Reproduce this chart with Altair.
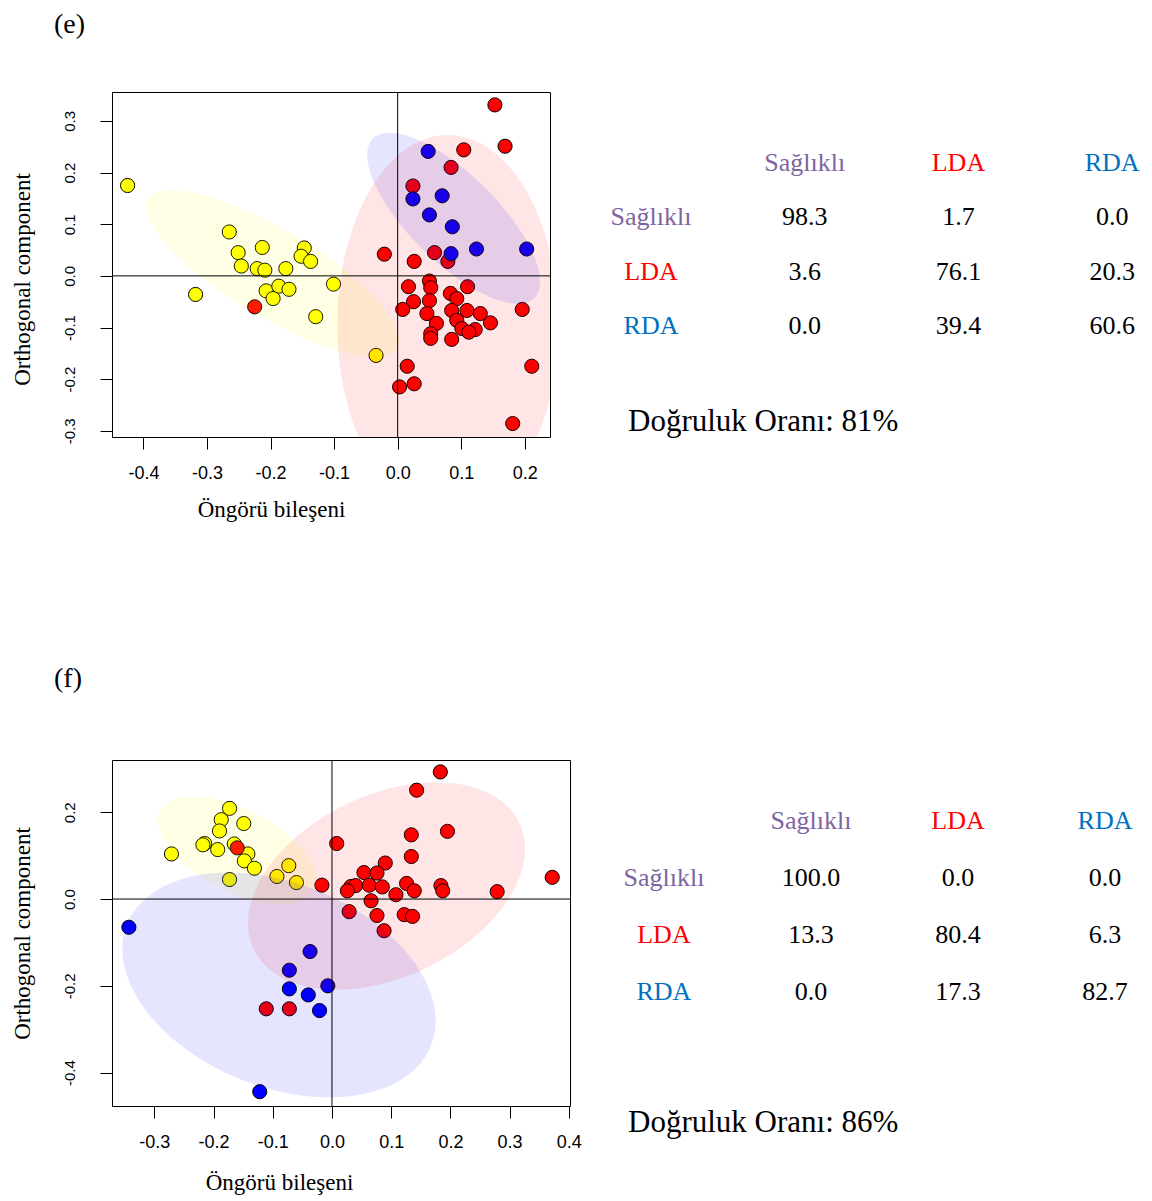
import altair as alt
import pandas as pd
import numpy as np

classes = ["Sağlıklı", "LDA", "RDA"]
point_colors = ["#FFFF00", "#FF0000", "#0000FF"]
text_colors = ["#8064A2", "#FF0000", "#0070C0"]

# ---------------- panel (e) points ----------------
e_yel_x = [-0.425, -0.265, -0.251, -0.213, -0.147, -0.152, -0.137, -0.246, -0.221, -0.209,
           -0.176, -0.101, -0.318, -0.207, -0.187, -0.171, -0.196, -0.129, -0.034]
e_yel_y = [0.175, 0.085, 0.045, 0.055, 0.054, 0.038, 0.028, 0.019, 0.014, 0.011,
           0.014, -0.016, -0.036, -0.029, -0.020, -0.026, -0.044, -0.079, -0.154]
e_red_x = [0.153, 0.169, 0.104, 0.084, 0.024, -0.021, 0.026, 0.058, 0.079, 0.050,
           0.017, 0.052, 0.110, 0.083, 0.093, 0.025, 0.050, 0.008, 0.109, 0.130,
           0.085, 0.046, 0.061, 0.093, 0.146, 0.101, 0.122, 0.112, 0.052, 0.085,
           0.052, 0.196, 0.211, 0.015, 0.026, 0.003, 0.181, -0.225]
e_red_y = [0.331, 0.251, 0.244, 0.210, 0.174, 0.042, 0.028, 0.045, 0.028, -0.010,
           -0.021, -0.023, -0.021, -0.034, -0.044, -0.050, -0.048, -0.065, -0.067, -0.073,
           -0.067, -0.073, -0.092, -0.086, -0.091, -0.102, -0.104, -0.109, -0.112, -0.123,
           -0.121, -0.065, -0.175, -0.175, -0.209, -0.215, -0.286, -0.060]
e_blu_x = [0.048, 0.024, 0.070, 0.050, 0.086, 0.124, 0.203, 0.084]
e_blu_y = [0.241, 0.149, 0.155, 0.118, 0.095, 0.052, 0.052, 0.043]

# ellipses: name -> (cx, cy, sx, sy, rho)
e_ell = {"Sağlıklı": (-0.197, 0.005, 0.199, 0.161, -0.80),
         "LDA": (0.079, -0.095, 0.174, 0.368, 0.0),
         "RDA": (0.088, 0.1115, 0.136, 0.1655, -0.74)}

# ---------------- panel (f) points ----------------
f_yel_x = [-0.173, -0.187, -0.149, -0.190, -0.271, -0.215, -0.218, -0.193, -0.165, -0.142,
           -0.148, -0.131, -0.173, -0.093, -0.073, -0.060]
f_yel_y = [0.209, 0.183, 0.174, 0.157, 0.104, 0.128, 0.125, 0.114, 0.127, 0.104,
           0.088, 0.071, 0.045, 0.052, 0.077, 0.038]
f_red_x = [0.183, 0.143, 0.134, 0.195, 0.008, -0.160, 0.134, 0.090, 0.054, 0.076,
           0.372, -0.017, 0.032, 0.040, 0.063, 0.085, 0.126, 0.139, 0.108, 0.184,
           0.187, 0.279, 0.026, 0.066, 0.029, 0.076, 0.122, 0.136, 0.088, -0.111, -0.072]
f_red_y = [0.293, 0.251, 0.148, 0.156, 0.128, 0.118, 0.098, 0.083, 0.061, 0.060,
           0.050, 0.032, 0.029, 0.031, 0.032, 0.028, 0.036, 0.019, 0.010, 0.031,
           0.019, 0.017, 0.019, -0.004, -0.029, -0.038, -0.036, -0.040, -0.073, -0.253, -0.253]
f_blu_x = [-0.343, -0.037, -0.072, -0.072, -0.040, -0.007, -0.021, -0.122]
f_blu_y = [-0.065, -0.121, -0.164, -0.207, -0.221, -0.200, -0.257, -0.444]

f_ell = {"Sağlıklı": (-0.160, 0.112, 0.134, 0.124, -0.55),
         "LDA": (0.092, 0.030, 0.234, 0.239, 0.36),
         "RDA": (-0.0895, -0.198, 0.2645, 0.259, -0.32)}

# ---------------- confusion tables ----------------
e_table = [[98.3, 1.7, 0.0], [3.6, 76.1, 20.3], [0.0, 39.4, 60.6]]
f_table = [[100.0, 0.0, 0.0], [13.3, 80.4, 6.3], [0.0, 17.3, 82.7]]
e_acc = "Doğruluk Oranı: 81%"
f_acc = "Doğruluk Oranı: 86%"

e_xticks = [-0.4, -0.3, -0.2, -0.1, 0.0, 0.1, 0.2]
e_yticks = [-0.3, -0.2, -0.1, 0.0, 0.1, 0.2, 0.3]
f_xticks = [-0.3, -0.2, -0.1, 0.0, 0.1, 0.2, 0.3, 0.4]
f_yticks = [-0.4, -0.2, 0.0, 0.2]

SERIF = "Liberation Serif"
SANS = "Liberation Sans"
LABEL_EXPR = "replace(format(datum.value, '.1f'), '\u2212', '-')"


def points_df(yx, yy, rx, ry, bx, by):
    parts = []
    for name, xs, ys in zip(classes, [yx, rx, bx], [yy, ry, by]):
        parts.append(pd.DataFrame({"x": xs, "y": ys, "grp": name}))
    return pd.concat(parts, ignore_index=True)


def ellipse_df(params, n=241):
    parts = []
    t = np.linspace(0, np.pi, n)
    u = -np.cos(t)
    for name, (cx, cy, sx, sy, rho) in params.items():
        half = np.sqrt(1 - rho ** 2) * np.sqrt(np.clip(1 - u ** 2, 0, None))
        parts.append(pd.DataFrame({
            "x": cx + sx * u,
            "ylo": cy + sy * (rho * u - half),
            "yhi": cy + sy * (rho * u + half),
            "grp": name}))
    return pd.concat(parts, ignore_index=True)


color_scale = alt.Scale(domain=classes, range=point_colors)


def scatter(pts, ell, xdom, ydom, xticks, yticks, w, h, label, title_off, xtitle_x, ytitle_y, xtitle_pad):
    xs = alt.Scale(domain=xdom, nice=False, zero=False)
    ys = alt.Scale(domain=ydom, nice=False, zero=False)
    xax = alt.Axis(values=xticks, labelExpr=LABEL_EXPR, title="Öngörü bileşeni", grid=False,
                   domain=False, ticks=True, tickColor="black", tickSize=12, tickWidth=1,
                   labelFont=SANS, labelFontSize=18, labelColor="black", labelPadding=15,
                   labelFlush=False, labelOverlap=False,
                   titleFont=SERIF, titleFontSize=23, titleFontWeight="normal", titleColor="black",
                   titlePadding=xtitle_pad, titleX=xtitle_x, titleAlign="center")
    yax = alt.Axis(values=yticks, labelExpr=LABEL_EXPR, title="Orthogonal component", grid=False,
                   domain=False, ticks=True, tickColor="black", tickSize=12, tickWidth=1,
                   labelFont=SANS, labelFontSize=15, labelColor="black", labelPadding=23,
                   labelAngle=270, labelAlign="center", labelBaseline="bottom",
                   labelFlush=False, labelOverlap=False,
                   titleFont=SERIF, titleFontSize=23, titleFontWeight="normal", titleColor="black",
                   titlePadding=28, titleY=ytitle_y, titleAlign="center")
    pts_layer = alt.Chart(pts).mark_circle(size=200, opacity=1, stroke="black", strokeWidth=1).encode(
        x=alt.X("x:Q", scale=xs, axis=xax),
        y=alt.Y("y:Q", scale=ys, axis=yax),
        color=alt.Color("grp:N", scale=color_scale, legend=None),
    )
    ell_layer = alt.Chart(ell).mark_area(opacity=0.1, clip=True, orient="vertical",
                                         interpolate="linear").encode(
        x=alt.X("x:Q", scale=xs),
        y=alt.Y("ylo:Q", scale=ys),
        y2="yhi:Q",
        color=alt.Color("grp:N", scale=color_scale, legend=None),
    )
    zero = pd.DataFrame({"v": [0.0]})
    vline = alt.Chart(zero).mark_rule(color="black", strokeWidth=1).encode(x=alt.X("v:Q", scale=xs))
    hline = alt.Chart(zero).mark_rule(color="black", strokeWidth=1).encode(y=alt.Y("v:Q", scale=ys))
    return alt.layer(pts_layer, ell_layer, vline, hline).properties(
        width=w, height=h,
        title=alt.TitleParams(label, anchor="start", frame="group", dx=-58, offset=title_off,
                              font=SERIF, fontSize=28, fontWeight="normal", color="black"),
    )


def table(values, acc, xdom, ydom, w, h, acc_off):
    rows = []
    for j, c in enumerate(classes):
        rows.append({"col": j + 1, "row": 0, "label": c, "color": text_colors[j]})
    for i, c in enumerate(classes):
        rows.append({"col": 0, "row": i + 1, "label": c, "color": text_colors[i]})
        for j in range(3):
            rows.append({"col": j + 1, "row": i + 1, "label": f"{values[i][j]:.1f}", "color": "#000000"})
    df = pd.DataFrame(rows)
    return alt.Chart(df).mark_text(font=SERIF, fontSize=26, align="center", baseline="middle").encode(
        x=alt.X("col:Q", scale=alt.Scale(domain=xdom, nice=False, zero=False), axis=None),
        y=alt.Y("row:Q", scale=alt.Scale(domain=ydom, nice=False, zero=False, reverse=True), axis=None),
        text="label:N",
        color=alt.Color("color:N", scale=None),
    ).properties(
        width=w, height=h,
        view=alt.ViewBackground(stroke="transparent"),
        title=alt.TitleParams(acc, orient="bottom", anchor="start", frame="group", dx=38, offset=acc_off,
                              font=SERIF, fontSize=31, fontWeight="normal", color="black"),
    )


se = scatter(points_df(e_yel_x, e_yel_y, e_red_x, e_red_y, e_blu_x, e_blu_y), ellipse_df(e_ell),
             [-0.4495, 0.2397], [-0.312, 0.356], e_xticks, e_yticks, 438, 345, "(e)", 53, 159, 187, 16)
sf = scatter(points_df(f_yel_x, f_yel_y, f_red_x, f_red_y, f_blu_x, f_blu_y), ellipse_df(f_ell),
             [-0.3715, 0.402], [-0.477, 0.3205], f_xticks, f_yticks, 458, 346, "(f)", 67, 167, 173, 20)
te = table(e_table, e_acc, [-0.397, 3.181], [-1.307, 4.215], 550, 300, 15)
tf = table(f_table, f_acc, [-0.503, 3.238], [-1.070, 4.193], 550, 300, 48)

chart = alt.concat(se, te, sf, tf, columns=2, spacing={"row": 323, "column": 20},
                   bounds="flush", align="each").properties(
    padding={"left": 2, "top": 2, "right": 0, "bottom": 0},
    background="white",
).configure_view(stroke="black", strokeWidth=1)

chart.save("out.html", embed_options={"renderer": "svg", "actions": False})
